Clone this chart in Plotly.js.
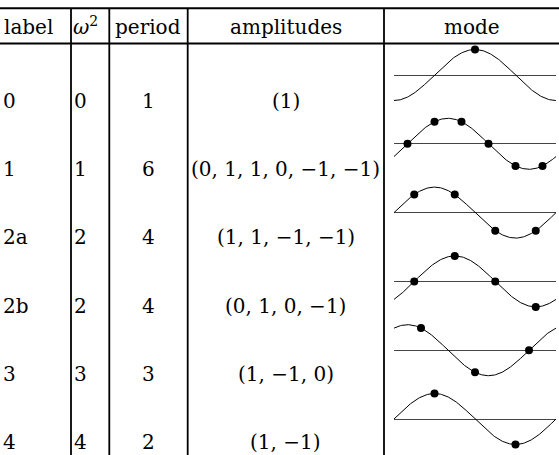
<!DOCTYPE html>
<html>
<head>
<meta charset="utf-8">
<script src="https://cdn.plot.ly/plotly-3.0.1.min.js"></script>
<style>html,body{margin:0;padding:0;background:#fff;}</style>
</head>
<body>
<div id="chart" style="width:559px;height:455px;"></div>
<script>
// ---- data ----
var headers = ["label", "<i>ω</i><sup>2</sup>", "period", "amplitudes", "mode"];
var labels = ["0", "1", "2a", "2b", "3", "4"];
var omega2 = [0, 1, 2, 2, 3, 4];
var periods = [1, 6, 4, 4, 3, 2];
var amplitudes = [
  [1],
  [0, 1, 1, 0, -1, -1],
  [1, 1, -1, -1],
  [0, 1, 0, -1],
  [1, -1, 0],
  [1, -1]
];

// ---- layout constants (pixels) ----
var W = 559, H = 455;
var FONT = {family: "DejaVu Serif", size: 20, color: "#000"};
var topRule = 8.3, headRule = 43.5, headerY = 27;
var vLines = [71, 109.3, 187.7, 384];
var rowTextY0 = 101, rowTextStep = 68.2, rowStep = 68.8, modeY0 = 75;
var modeX0 = 394, modeX1 = 556, modeHalf = 30, modeAmpPx = 25.5;

function px(x) { return x / W; }
function py(y) { return 1 - y / H; }

function fmt(v) { return v < 0 ? "\u2212" + Math.abs(v) : String(v); }
function tuple(a) { return "(" + a.map(fmt).join(", ") + ")"; }

var annotations = [];
function addText(text, x, y, anchor) {
  annotations.push({
    text: text, xref: "paper", yref: "paper", x: px(x), y: py(y),
    xanchor: anchor, yanchor: "middle", showarrow: false,
    font: FONT, borderpad: 0, borderwidth: 0
  });
}

// headers
addText(headers[0], 4, headerY, "left");
addText(headers[1], 73, headerY - 1, "left");
addText(headers[2], 148, headerY, "center");
addText(headers[3], (vLines[2] + vLines[3]) / 2, headerY, "center");
addText(headers[4], (vLines[3] + W) / 2, headerY, "center");

// rows
for (var i = 0; i < labels.length; i++) {
  var yy = rowTextY0 + rowTextStep * i;
  addText(labels[i], 3, yy, "left");
  addText(String(omega2[i]), 74, yy, "left");
  addText(String(periods[i]), 148, yy, "center");
  addText(tuple(amplitudes[i]), (vLines[2] + vLines[3]) / 2, yy, "center");
}

// rules
var shapes = [];
shapes.push({type: "line", xref: "paper", yref: "paper", x0: 0, x1: 1, y0: py(topRule), y1: py(topRule), line: {color: "#000", width: 2}});
shapes.push({type: "line", xref: "paper", yref: "paper", x0: 0, x1: 1, y0: py(headRule), y1: py(headRule), line: {color: "#000", width: 2}});
vLines.forEach(function (x) {
  shapes.push({type: "line", xref: "paper", yref: "paper", x0: px(x), x1: px(x), y0: py(topRule), y1: 0, line: {color: "#000", width: 1.8}});
});

// mode curves: trigonometric fit of the first harmonic through the amplitudes
var traces = [];
var layout = {
  width: W, height: H, margin: {l: 0, r: 0, t: 0, b: 0},
  paper_bgcolor: "#fff", plot_bgcolor: "rgba(0,0,0,0)",
  showlegend: false, annotations: annotations, shapes: shapes
};
for (var m = 0; m < amplitudes.length; m++) {
  var a = amplitudes[m], N = a.length;
  var f = (N <= 2) ? 1 / N : 2 / N;
  var A = 0, B = 0;
  for (var k = 0; k < N; k++) {
    A += f * a[k] * Math.cos(2 * Math.PI * k / N);
    B += f * a[k] * Math.sin(2 * Math.PI * k / N);
  }
  var R = Math.sqrt(A * A + B * B);
  var tx = [], ty = [];
  var S = 240;
  for (var s = 0; s <= S; s++) {
    var t = -0.5 + N * s / S;
    tx.push(t);
    ty.push((A * Math.cos(2 * Math.PI * t / N) + B * Math.sin(2 * Math.PI * t / N)) / R);
  }
  var dx = [], dy = [];
  for (var k2 = 0; k2 < N; k2++) { dx.push(k2); dy.push(a[k2] / R); }
  var sfx = (m === 0) ? "" : String(m + 1);
  traces.push({x: tx, y: ty, xaxis: "x" + sfx, yaxis: "y" + sfx, mode: "lines",
    line: {color: "#000", width: 1}, hoverinfo: "skip", cliponaxis: false});
  traces.push({x: dx, y: dy, xaxis: "x" + sfx, yaxis: "y" + sfx, mode: "markers",
    marker: {color: "#000", size: 8}, hoverinfo: "skip", cliponaxis: false});
  var c = modeY0 + rowStep * m;
  var yr = modeHalf / modeAmpPx;
  layout["xaxis" + sfx] = {domain: [px(modeX0), px(modeX1)], range: [-0.5, N - 0.5],
    anchor: "y" + sfx, showgrid: false, zeroline: false, showticklabels: false, ticks: "", showline: false, fixedrange: true};
  layout["yaxis" + sfx] = {domain: [py(c + modeHalf), py(c - modeHalf)], range: [-yr, yr],
    anchor: "x" + sfx, showgrid: false, zeroline: true, zerolinecolor: "#444", zerolinewidth: 1,
    showticklabels: false, ticks: "", showline: false, fixedrange: true};
}

Plotly.newPlot("chart", traces, layout, {staticPlot: true, displayModeBar: false});
</script>
</body>
</html>
